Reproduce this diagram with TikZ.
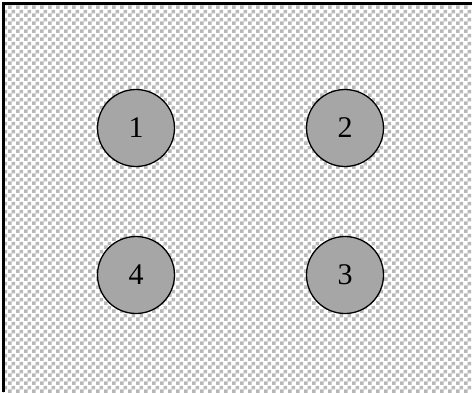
\documentclass[tikz,border=0pt]{standalone}
\usepackage{fontspec}
\setmainfont{Liberation Serif}
\usetikzlibrary{patterns.meta}
\pgfdeclarepattern{name=chk, type=uncolored,
  bottom left={\pgfpointorigin}, top right={\pgfpoint{8pt}{8pt}},
  tile size={\pgfpoint{8pt}{8pt}},
  code={\pgfpathrectangle{\pgfpointorigin}{\pgfpoint{4pt}{4pt}}
        \pgfpathrectangle{\pgfpoint{4pt}{4pt}}{\pgfpoint{4pt}{4pt}}
        \pgfusepath{fill}}}
\definecolor{chkgray}{HTML}{B8B8B8}
\definecolor{ballgray}{HTML}{A6A6A6}
\tikzset{
  ball/.style={circle, draw=black, line width=1.3pt, fill=ballgray, minimum size=77pt, inner sep=0pt, font=\fontsize{30}{30}\selectfont},
  frameline/.style={line width=3pt, black}
}
\begin{document}
\begin{tikzpicture}[x=1pt,y=-1pt]
\useasboundingbox (0,0) rectangle (472,392);
\fill[white] (0,0) rectangle (472,392);
\fill[pattern=chk, pattern color=chkgray] (3,3) rectangle (472,392);
\coordinate (tl) at (3,3);
\coordinate (tr) at (472,3);
\coordinate (bl) at (3,392);
\draw[frameline] (bl) -- (tl) -- (tr);
\node[ball] (n1) at (136,128) {1};
\node[ball] (n2) at (345,128) {2};
\node[ball] (n4) at (136,275) {4};
\node[ball] (n3) at (345,275) {3};
\end{tikzpicture}
\end{document}
